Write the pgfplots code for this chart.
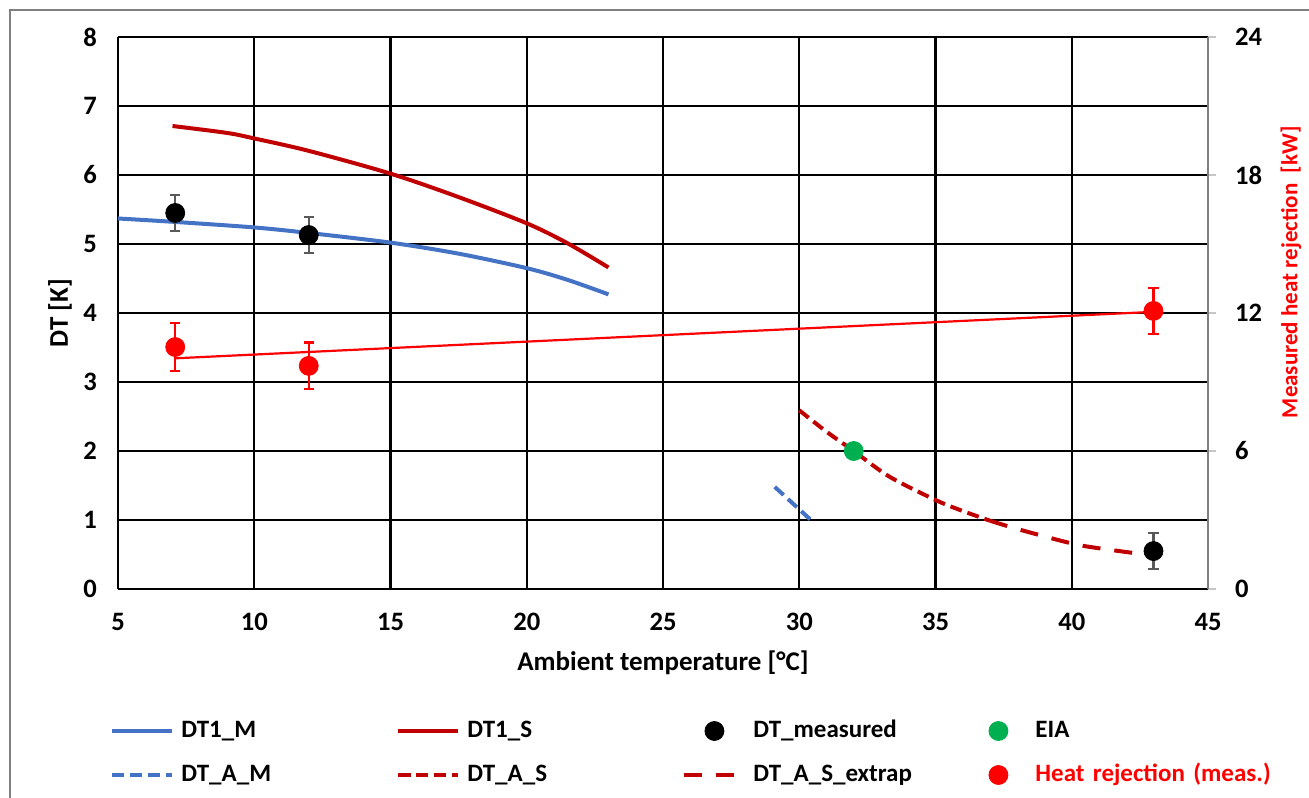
\documentclass[border=0pt]{standalone}
\usepackage{fontspec}
\setmainfont{Carlito}
\usepackage{pgfplots}
\pgfplotsset{compat=1.18}

\definecolor{xlblue}{HTML}{4472C4}
\definecolor{xldred}{HTML}{C00000}
\definecolor{xlred}{HTML}{FF0000}
\definecolor{xlgreen}{HTML}{00B050}
\definecolor{errgray}{HTML}{595959}

\newcommand{\tickfont}{\bfseries\fontsize{13.3bp}{16bp}\selectfont}
\newcommand{\labfont}{\bfseries\fontsize{13.5bp}{16bp}\selectfont}
\newcommand{\rlabfont}{\bfseries\fontsize{11.5bp}{14bp}\selectfont}
\newcommand{\legfont}{\bfseries\fontsize{12.5bp}{15bp}\selectfont}

\begin{document}
\begin{tikzpicture}
\path[use as bounding box] (-59bp,-104.5bp) rectangle (595.5bp,294.5bp);
% chart area border
\draw[gray, line width=1bp] (-54bp,-130bp) -- (-54bp,289.5bp) -- (640bp,289.5bp);

\begin{axis}[
    scale only axis,
    width=545bp, height=276bp,
    xmin=5, xmax=45, ymin=0, ymax=8,
    xtick={5,10,...,40}, extra x ticks={45},
    extra x tick style={grid=none},
    ytick={0,1,...,8},
    grid=major,
    grid style={black, line width=1.1bp},
    axis line style={draw=none},
    major tick length=0pt,
    /pgf/number format/assume math mode=true,
    ticklabel style={font=\tickfont},
    xticklabel style={yshift=-8.5bp},
    yticklabel style={xshift=-7bp},
    xlabel={Ambient temperature [°C]},
    ylabel={DT [K]},
    xlabel style={font=\labfont, at={(axis description cs:0.5,-0.134)}, anchor=center},
    ylabel style={font=\labfont, at={(axis description cs:-0.0532,0.5)}, anchor=center},
    legend columns=4,
    legend cell align=left,
    legend style={at={(axis description cs:-0.0073,-0.2366)}, anchor=north west,
        draw=none, fill=none, inner sep=0pt, column sep=0pt, row sep=11bp,
        nodes={font=\legfont, text width=104bp, align=left, inner xsep=3.5bp,
               inner ysep=0pt, text height=8.5bp, text depth=2.5bp}},
    legend image code/.code={\path[draw=none, fill=none] (0bp,0bp) -- (30bp,0bp);
        \draw[mark repeat=2, mark phase=2, #1]
        plot coordinates {(0bp,0bp) (15bp,0bp) (30bp,0bp)};},
]
% DT1_M
\addplot[xlblue, line width=2bp, smooth, no marks] coordinates {
    (5,5.37) (7.1,5.32) (10,5.24) (12,5.16) (15,5.02) (17.5,4.86) (20,4.65) (21.5,4.48) (23,4.27)
};
\addlegendentry{DT1\_M}
% DT1_S
\addplot[xldred, line width=2bp, smooth, no marks] coordinates {
    (7,6.71) (9,6.61) (10,6.53) (12,6.35) (15,6.02) (17.5,5.68) (20,5.30) (21.5,5.01) (23,4.66)
};
\addlegendentry{DT1\_S}
% DT_measured
\addplot[only marks, mark=*, mark size=4.75bp, black,
    error bars/.cd, y dir=both, y explicit,
    error bar style={errgray, line width=1.1bp},
    error mark options={rotate=90, mark size=2.6bp, errgray, line width=1.1bp}]
    coordinates {
    (7.1,5.45) +- (0,0.26)
    (12,5.13) +- (0,0.26)
    (43,0.55) +- (0,0.26)
};
\addlegendentry{DT\_measured}
% EIA
\addplot[only marks, mark=*, mark size=4.75bp, xlgreen] coordinates {(32,2.0)};
\addlegendentry{EIA}
% DT_A_M
\addplot[xlblue, line width=2bp, dash pattern=on 6bp off 3bp, no marks] coordinates {
    (29.1,1.48) (30.4,1.01)
};
\addlegendentry{DT\_A\_M}
% DT_A_S
\addplot[xldred, line width=2bp, dash pattern=on 6bp off 3bp, smooth, no marks] coordinates {
    (30,2.59) (31,2.28) (32,2.0) (33.3,1.63) (35,1.29) (36,1.13) (37,0.99)
};
\addlegendentry{DT\_A\_S}
% DT_A_S_extrap
\addplot[xldred, line width=2bp, dash pattern=on 9bp off 7bp, smooth, no marks] coordinates {
    (37,0.99) (38,0.87) (40,0.66) (41,0.59) (42.5,0.51)
};
\addlegendentry{DT\_A\_S\_extrap}
\addlegendimage{only marks, mark=*, mark size=4.75bp, xlred}
\addlegendentry{\mbox{\textcolor{xlred}{Heat rejection (meas.)}}}
\end{axis}

\begin{axis}[
    scale only axis,
    width=545bp, height=276bp,
    xmin=5, xmax=45, ymin=0, ymax=24,
    axis x line=none,
    axis y line*=right,
    ytick={0,6,...,24},
    axis line style={gray, line width=1bp, -},
    tick style={gray!45, line width=1bp},
    tick align=outside,
    major tick length=4bp,
    /pgf/number format/assume math mode=true,
    ticklabel style={font=\tickfont},
    yticklabel style={xshift=6bp},
    ylabel={Measured heat rejection\ \ [kW]},
    ylabel style={font=\rlabfont, text=xlred, at={(axis description cs:1.076,0.574)}, anchor=center},
]
% heat rejection trend line
\addplot[xlred, line width=1.1bp, no marks] coordinates {(7.1,10.03) (43,12.05)};
% heat rejection measured
\addplot[only marks, mark=*, mark size=4.75bp, xlred,
    error bars/.cd, y dir=both, y explicit,
    error bar style={xlred, line width=1.1bp},
    error mark options={rotate=90, mark size=2.6bp, xlred, line width=1.1bp}]
    coordinates {
    (7.1,10.52) +- (0,1.05)
    (12,9.70) +- (0,1.02)
    (43,12.09) +- (0,1.0)
};
\end{axis}
\end{tikzpicture}
\end{document}
